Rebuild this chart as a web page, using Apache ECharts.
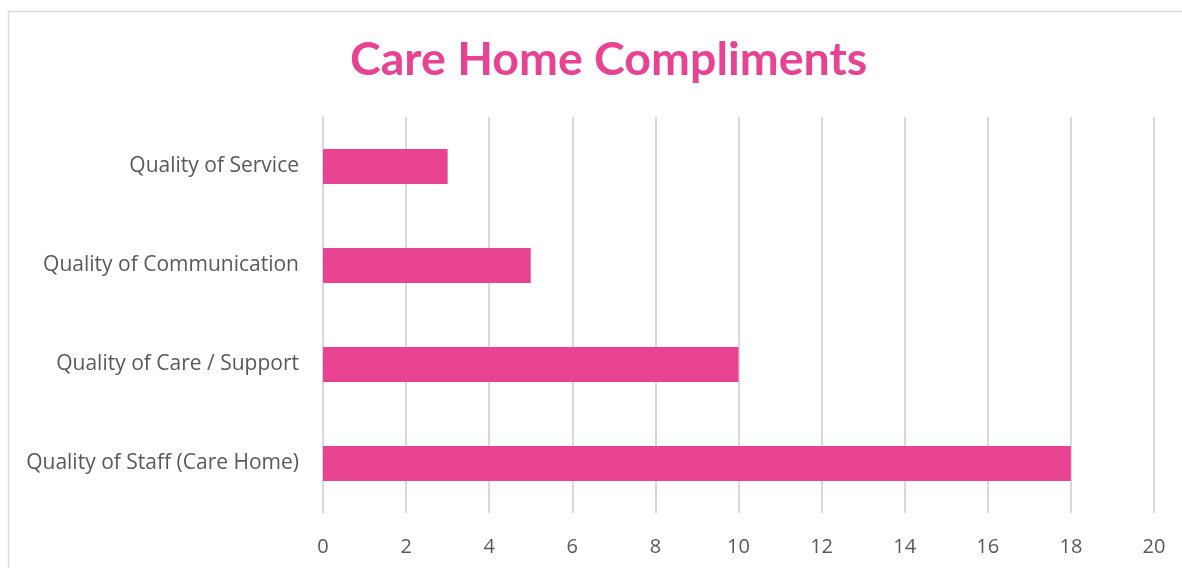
<!DOCTYPE html>
<html>
<head>
<meta charset="utf-8">
<script src="https://cdn.jsdelivr.net/npm/echarts@6/dist/echarts.min.js"></script>
<style>
  html, body { margin: 0; padding: 0; background: #fff; }
  #chart { width: 1182px; height: 568px; }
</style>
</head>
<body>
<div id="chart"></div>
<script>
// categories from bottom to top (category axis starts at the bottom)
var categories = [
  'Quality of Staff (Care Home)',
  'Quality of Care / Support',
  'Quality of Communication',
  'Quality of Service'
];
var compliments = [18, 10, 5, 3];
var xTicks = [0, 2, 4, 6, 8, 10, 12, 14, 16, 18, 20];

var myChart = echarts.init(document.getElementById('chart'));
var option = {
  backgroundColor: '#fff',
  animation: false,
  title: {
    text: 'Care Home Compliments',
    left: 345,
    top: 31,
    textStyle: {
      color: '#E84393',
      fontFamily: 'Lato',
      fontWeight: 'bold',
      fontSize: 46.5
    }
  },
  graphic: [{
    type: 'rect',
    shape: { x: 8.5, y: 11.5, width: 1200, height: 600 },
    style: { fill: 'none', stroke: '#d9d9d9', lineWidth: 1.5 },
    silent: true
  }],
  grid: { left: 323, right: 28, top: 117, bottom: 55 },
  xAxis: {
    type: 'value',
    min: xTicks[0],
    max: xTicks[xTicks.length - 1],
    interval: 2,
    axisLine: { show: false },
    axisTick: { show: false },
    axisLabel: {
      color: '#595959',
      fontSize: 20,
      fontFamily: 'Open Sans',
      margin: 24
    },
    splitLine: { lineStyle: { color: '#d9d9d9', width: 2 } }
  },
  yAxis: {
    type: 'category',
    data: categories,
    axisLine: { show: true, lineStyle: { color: '#d9d9d9', width: 2 } },
    axisTick: { show: false },
    axisLabel: {
      color: '#595959',
      fontSize: 21,
      fontFamily: 'Open Sans',
      margin: 24
    }
  },
  series: [{
    type: 'bar',
    data: compliments,
    barWidth: 35,
    itemStyle: { color: '#E84393' }
  }]
};
myChart.setOption(option);
window.onresize = myChart.resize;
</script>
</body>
</html>
